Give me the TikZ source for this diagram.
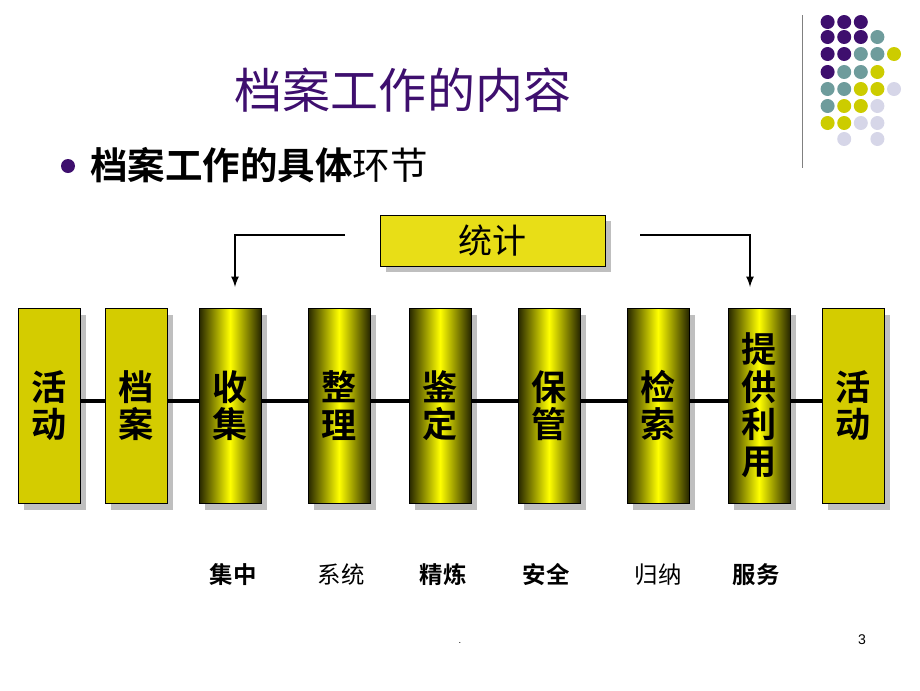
\documentclass[tikz,border=0pt]{standalone}
\usepackage{fontspec}
\newfontfamily\cjk{Noto Sans CJK SC}
\newfontfamily\cjkb{Noto Sans CJK SC Bold}
\newfontfamily\arial{Liberation Sans}
\usetikzlibrary{positioning, shadings}
\definecolor{dotP}{HTML}{3E0F6E}
\definecolor{dotT}{HTML}{6E9C9C}
\definecolor{dotY}{HTML}{CCCC00}
\definecolor{dotL}{HTML}{D6D6E8}
\definecolor{boxyel}{HTML}{D4CC00}
\tikzset{
  flat/.style={draw=black, fill=boxyel, minimum width=1.86cm, minimum height=5.85cm, inner sep=0pt},
  tube/.style={draw=black, left color=black!85!yellow, right color=black!85!yellow, middle color=yellow, shading angle=90, minimum width=1.86cm, minimum height=5.85cm, inner sep=0pt},
  vtext/.style={align=center, font=\cjkb\fontsize{30}{32}\selectfont},
  shade box/.style={fill=black!25},
  note/.style={font=\cjkb\fontsize{20}{24}\selectfont},
  notel/.style={font=\cjk\fontsize{20}{24}\selectfont}
}
\begin{document}
\begin{tikzpicture}[x=0.03cm, y=-0.03cm]
    \useasboundingbox (0,0) rectangle (920,690);
    %\draw[step=10, gray!20, very thin] (0,0) grid (920,690);

    % dots in the corner
    \draw[gray, thick] (802,15) -- (802,168);
    \foreach \y/\list in {22/{1/P,2/P,3/P}, 37/{1/P,2/P,3/P,4/T}, 54/{1/P,2/P,3/T,4/T,5/Y},
        72/{1/P,2/T,3/T,4/Y}, 89/{1/T,2/T,3/Y,4/Y,5/L}, 106/{1/T,2/Y,3/Y,4/L},
        123/{1/Y,2/Y,3/L,4/L}, 139/{2/L,4/L}}{
      \foreach \c/\k in \list
        \fill[dot\k] ({811+16.6*\c},\y) circle (7);
    }

    \node[font=\cjk\fontsize{41}{46}\selectfont, text=dotP] (title) at (403,90) {档案工作的内容};
    \fill[dotP] (68,166) circle (7);
    \node[anchor=west, font=\fontsize{32}{36}\selectfont, inner sep=0pt] (sub) at (90,165) {{\cjkb 档案工作的具体}{\cjk 环节}};

    % shadows
    \foreach \x in {18,105,199,308,409,518,627,728,822}
      \fill[shade box] (\x+6,315) rectangle (\x+68,510);

    \node[flat] (a1) at (49,405.5) {};
    \node[flat] (a2) at (136,405.5) {};
    \node[tube] (b1) at (230,405.5) {};
    \node[tube] (b2) at (339,405.5) {};
    \node[tube] (b3) at (440,405.5) {};
    \node[tube] (b4) at (549,405.5) {};
    \node[tube] (b5) at (658,405.5) {};
    \node[tube] (b6) at (759,405.5) {};
    \node[flat] (a3) at (853,405.5) {};

    \foreach \p/\q in {a1/a2,a2/b1,b1/b2,b2/b3,b3/b4,b4/b5,b5/b6,b6/a3}
      \draw[line width=3.5pt] ([yshift=0.14cm]\p.east) -- ([yshift=0.14cm]\q.west);

    \node[vtext] at (a1.center) {活\\动};
    \node[vtext] at (a2.center) {档\\案};
    \node[vtext] at (b1.center) {收\\集};
    \node[vtext] at (b2.center) {整\\理};
    \node[vtext] at (b3.center) {鉴\\定};
    \node[vtext] at (b4.center) {保\\管};
    \node[vtext] at (b5.center) {检\\索};
    \node[vtext] at (b6.center) {提\\供\\利\\用};
    \node[vtext] at (a3.center) {活\\动};

    % statistics box
    \fill[shade box] (386,221) rectangle (611,272);
    \node[draw=black, fill=yellow!90!black, minimum width=6.75cm, minimum height=1.53cm,
      font=\cjk\fontsize{29}{32}\selectfont] (tj) at (492.5,240.5) {统计};
    \coordinate (lt) at (345,235);
    \coordinate (rt) at (640,235);
    \draw[line width=2pt, -latex] (lt) -| (235,287);
    \draw[line width=2pt, -latex] (rt) -| (750,287);

    \node[note] at (233,575) {集中};
    \node[notel] at (341,575) {系统};
    \node[note] at (443,575) {精炼};
    \node[note] at (546,575) {安全};
    \node[notel] at (658,575) {归纳};
    \node[note] at (756,575) {服务};

    \node[font=\arial\fontsize{12}{14}\selectfont] at (862,640) {3};
    \node[font=\arial\footnotesize] at (460,643) {.};
\end{tikzpicture}
\end{document}
